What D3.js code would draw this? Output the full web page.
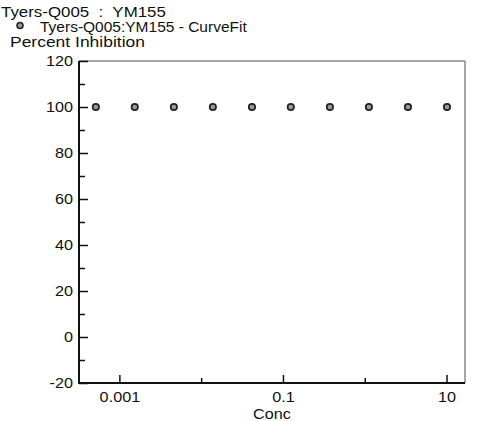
<!DOCTYPE html>
<html>
<head>
<meta charset="utf-8">
<title>Tyers-Q005 : YM155</title>
<style>
body { margin: 0; background: #fff; }
svg text { font-family: "Liberation Sans", Arial, sans-serif; fill: #111; }
.axis path, .axis line { stroke: #111; }
</style>
<script src="https://d3js.org/d3.v7.min.js"></script>
</head>
<body>
<script>

// data
var conc = [0.000508, 0.00152, 0.00457, 0.0137, 0.0412, 0.123, 0.370, 1.11, 3.33, 10];
var inhibition = [100, 100, 100, 100, 100, 100, 100, 100, 100, 100];
var xTicks = [0.001, 0.01, 0.1, 1, 10];
var xLabels = ["0.001", "", "0.1", "", "10"];
var yTicks = [-20, 0, 20, 40, 60, 80, 100, 120];
var yMinor = [-10, 10, 30, 50, 70, 90, 110];

var width = 500, height = 421;
var margin = {top: 61, right: 35, bottom: 38, left: 79};
var w = width - margin.left - margin.right,
    h = height - margin.top - margin.bottom;
var stretch = 1.08; // the original lettering is a bit wider than Liberation Sans

var svg = d3.select("body").append("svg")
    .attr("width", width)
    .attr("height", height);

// header text, squeezed/stretched horizontally to the width seen in the picture
function header(str, px, x0, y0, target) {
  var t = svg.append("text")
      .attr("xml:space", "preserve")
      .style("font-size", px + "px")
      .text(str);
  var k = target / t.node().getComputedTextLength();
  t.attr("transform", "translate(" + x0 + "," + y0 + ") scale(" + k + ",1)");
}
header("Tyers-Q005  :  YM155", 15.5, 1, 17, 165);
svg.append("circle").attr("cx", 20).attr("cy", 25.5).attr("r", 3)
    .attr("fill", "#9a9a9a").attr("stroke", "#222").attr("stroke-width", 1.6);
header("Tyers-Q005:YM155 - CurveFit", 14.5, 40, 32, 207);
header("Percent Inhibition", 14.5, 10, 47, 135);

var g = svg.append("g")
    .attr("transform", "translate(" + margin.left + "," + margin.top + ")");

var x = d3.scaleLog()
    .domain([Math.pow(10, -3.5), Math.pow(10, 1.22)])
    .range([0, w]);
var y = d3.scaleLinear()
    .domain([-20, 120])
    .range([h, 0]);

// frame: top and right in grey
g.append("line").attr("x1", 0).attr("x2", w).attr("y1", 0).attr("y2", 0)
    .attr("stroke", "#888").attr("stroke-width", 1.5);
g.append("line").attr("x1", w).attr("x2", w).attr("y1", 0).attr("y2", h)
    .attr("stroke", "#888").attr("stroke-width", 1.5);

// y axis, ticks pointing inward
var yAxis = g.append("g").attr("class", "axis")
    .call(d3.axisRight(y).tickValues(yTicks).tickSize(9).tickFormat(""));
yAxis.select(".domain").remove();
yAxis.selectAll("line").attr("stroke-width", 1.5);
g.append("g").attr("class", "axis")
    .call(d3.axisRight(y).tickValues(yMinor).tickSize(6).tickFormat(""))
    .call(function(s) { s.select(".domain").remove(); })
    .selectAll("line").attr("stroke-width", 1.5);
g.selectAll("text.ylab")
    .data(yTicks)
  .enter().append("text")
    .attr("class", "ylab")
    .attr("transform", function(d) {
      return "translate(-6," + y(d) + ") scale(" + stretch + ",1)";
    })
    .attr("dy", "0.36em")
    .attr("text-anchor", "end")
    .style("font-size", "15px")
    .text(function(d) { return d; });
g.append("line").attr("x1", 0).attr("x2", 0).attr("y1", 0).attr("y2", h)
    .attr("stroke", "#111").attr("stroke-width", 2);

// x axis, ticks pointing inward
var xg = g.append("g").attr("class", "axis")
    .attr("transform", "translate(0," + h + ")");
xg.selectAll("line.xt")
    .data(xTicks)
  .enter().append("line")
    .attr("class", "xt")
    .attr("x1", function(d) { return x(d); })
    .attr("x2", function(d) { return x(d); })
    .attr("y1", 0)
    .attr("y2", function(d, i) { return xLabels[i] ? -8 : -5; })
    .attr("stroke", "#111").attr("stroke-width", 1.5);
xg.selectAll("text.xlab")
    .data(xTicks)
  .enter().append("text")
    .attr("class", "xlab")
    .attr("transform", function(d) {
      return "translate(" + x(d) + ",19) scale(" + stretch + ",1)";
    })
    .attr("text-anchor", "middle")
    .style("font-size", "15px")
    .text(function(d, i) { return xLabels[i]; });
xg.append("line").attr("x1", -1).attr("x2", w).attr("y1", 0).attr("y2", 0)
    .attr("stroke", "#111").attr("stroke-width", 2);
g.append("text")
    .attr("transform", "translate(" + (w / 2) + "," + (h + 36) + ") scale(" + stretch + ",1)")
    .attr("text-anchor", "middle")
    .style("font-size", "15px")
    .text("Conc");

// points
g.selectAll("circle.pt")
    .data(conc)
  .enter().append("circle")
    .attr("class", "pt")
    .attr("cx", function(d) { return x(d); })
    .attr("cy", function(d, i) { return y(inhibition[i]); })
    .attr("r", 3.2)
    .attr("fill", "#9a9a9a")
    .attr("stroke", "#222")
    .attr("stroke-width", 1.7);

</script>
</body>
</html>
